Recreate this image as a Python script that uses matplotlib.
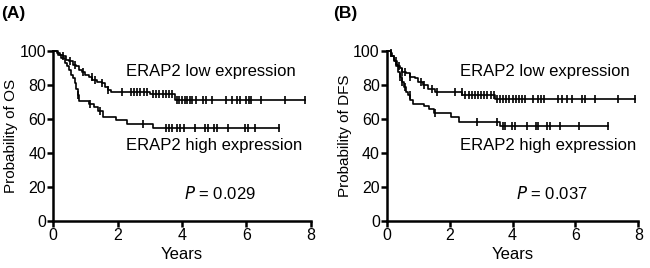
import numpy as np
import matplotlib
matplotlib.use("Agg")
import matplotlib.pyplot as plt

plt.rcParams['font.family'] = ['Liberation Sans', 'DejaVu Sans']

# ---- Panel A (OS) ----
a_low_t = [0, 0.1, 0.2, 0.3, 0.4, 0.5, 0.6, 0.7, 0.8, 0.9, 1.0, 1.1, 1.2, 1.35, 1.5, 1.6, 1.7, 1.78, 3.0, 3.78]
a_low_s = [100, 99, 98, 97, 95, 94, 92, 91, 89, 88, 86, 85, 83, 82, 81, 79, 77, 76, 74.7, 71]
a_low_end = 7.82
a_low_cens = [0.3, 0.52, 0.67, 0.93, 1.19, 1.29, 1.5, 1.7, 2.12, 2.4, 2.5, 2.6, 2.7, 2.82, 2.9,
              3.1, 3.2, 3.3, 3.4, 3.5, 3.6, 3.7, 3.85, 3.92, 4.0, 4.08, 4.16, 4.24, 4.32, 4.42,
              4.65, 4.75, 4.92, 5.38, 5.55, 5.7, 5.8, 6.0, 6.08, 6.16, 6.47, 7.2, 7.82]

a_high_t = [0, 0.15, 0.25, 0.35, 0.42, 0.5, 0.55, 0.62, 0.68, 0.72, 0.76, 0.8, 1.1, 1.25, 1.4, 1.55, 1.95, 2.3, 3.1]
a_high_s = [100, 98, 96, 93, 91, 89, 86, 84, 81, 78, 74, 70.5, 69, 67, 65, 61.5, 59.5, 57, 55]
a_high_end = 7.0
a_high_cens = [0.78, 1.14, 1.45, 2.8, 3.5, 3.6, 3.7, 3.85, 3.95, 4.05, 4.4, 4.72, 4.8,
               5.0, 5.08, 5.42, 5.96, 6.05, 6.26, 7.0]

# ---- Panel B (DFS) ----
b_low_t = [0, 0.12, 0.18, 0.22, 0.27, 0.32, 0.37, 0.42, 0.5, 0.6, 0.75, 0.9, 1.0, 1.15, 1.3, 1.55, 2.4, 3.45]
b_low_s = [100, 99, 97, 95, 94, 92, 91, 90, 88, 87, 85, 84, 82, 80, 78, 76, 74, 72]
b_low_end = 7.9
b_low_cens = [0.15, 0.28, 0.4, 0.5, 0.58, 0.75, 1.1, 1.2, 1.43, 1.59, 2.17, 2.38, 2.5, 2.6, 2.7,
              2.8, 2.9, 3.0, 3.1, 3.2, 3.3, 3.4, 3.5, 3.6, 3.7, 3.8, 3.9, 4.0, 4.1, 4.2, 4.3,
              4.4, 4.65, 4.8, 4.9, 5.0, 5.45, 5.56, 5.72, 5.88, 6.2, 6.3, 6.62, 7.36, 7.9]

b_high_t = [0, 0.15, 0.22, 0.28, 0.35, 0.42, 0.48, 0.55, 0.62, 0.68, 0.75, 0.85, 1.2, 1.35, 1.5, 2.05, 2.3, 3.6]
b_high_s = [100, 97, 94, 91, 88, 85, 82, 79, 76, 74, 71, 69, 68, 66, 63.5, 61.5, 58.5, 56]
b_high_end = 7.05
b_high_cens = [0.42, 0.5, 0.58, 0.74, 1.54, 2.88, 3.52, 3.7, 3.76, 3.98, 4.08, 4.45, 4.75,
               4.82, 5.1, 5.18, 5.5, 6.1, 7.05]

x_ticks = [0, 2, 4, 6, 8]
y_ticks = [0, 20, 40, 60, 80, 100]


def km(ax, t, s, end, cens):
    tt = list(t) + [end]
    ss = list(s) + [s[-1]]
    ax.step(tt, ss, where='post', color='black', lw=1.2, clip_on=False, zorder=3)
    idx = np.searchsorted(np.array(t), np.array(cens), side='right') - 1
    cy = np.array(s)[idx]
    ax.plot(cens, cy, ls='none', marker='|', ms=5.5, mew=1.2, color='black', clip_on=False, zorder=3)


fig = plt.figure(figsize=(6.5, 2.68), dpi=100)
axA = fig.add_axes([0.082, 0.175, 0.396, 0.634])
axB = fig.add_axes([0.595, 0.175, 0.387, 0.634])

panels = [
    (axA, a_low_t, a_low_s, a_low_end, a_low_cens, a_high_t, a_high_s, a_high_end, a_high_cens,
     'Probability of OS', '0.029', 2.26, 4.06, '(A)', 0.0),
    (axB, b_low_t, b_low_s, b_low_end, b_low_cens, b_high_t, b_high_s, b_high_end, b_high_cens,
     'Probability of DFS', '0.037', 2.33, 4.11, '(B)', 0.511),
]

for (ax, lt, ls_, le, lc, ht, hs, he, hc, ylab, pval, tx, px, tag, fx) in panels:
    km(ax, lt, ls_, le, lc)
    km(ax, ht, hs, he, hc)
    ax.set_xlim(0, 8)
    ax.set_ylim(0, 100)
    ax.set_xticks(x_ticks)
    ax.set_yticks(y_ticks)
    for sp in ['top', 'right']:
        ax.spines[sp].set_visible(False)
    for sp in ['left', 'bottom']:
        ax.spines[sp].set_linewidth(1.8)
    ax.tick_params(direction='out', length=4, width=1.8, labelsize=11.5, pad=1)
    ax.set_xlabel('Years', fontsize=12, labelpad=3)
    ax.set_ylabel(ylab, fontsize=11, labelpad=1)
    ax.text(tx, 87.8, 'ERAP2 low expression', fontsize=12, va='center', ha='left')
    ax.text(tx, 44.3, 'ERAP2 high expression', fontsize=12, va='center', ha='left')
    ax.text(px, 16.5, r'$\it{P}$ = ' + pval, fontsize=12, va='center', ha='left')
    fig.text(fx + 0.001, 0.95, tag, fontsize=12.5, fontweight='bold', va='center', ha='left')

fig.savefig('out.png', dpi=100)
